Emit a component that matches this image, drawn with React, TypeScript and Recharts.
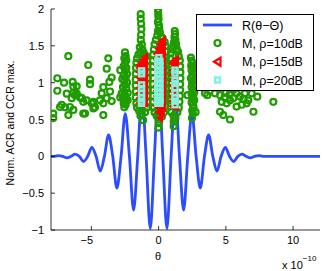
import React from 'react';
import { ComposedChart, Line, Scatter, XAxis, YAxis, Legend } from 'recharts';

const FONT = '"Liberation Sans", Arial, Helvetica, sans-serif';
const BLUE = '#2b4cff';
const GREEN = '#1e9c00';
const RED = '#ff0000';
const CYAN = '#7ff5dc';

const xTicks = [-5, 0, 5, 10];
const yTicks = [-1, -0.5, 0, 0.5, 1, 1.5, 2];
const legendLabels = ['R(\u03b8\u2212\u0398)', 'M, \u03c1=10dB', 'M, \u03c1=15dB', 'M, \u03c1=20dB'];

// R(theta - Theta) curve: extrema and zero crossings
const thetaR = [-8, -7.72, -7.44, -7.13, -6.82, -6.51, -6.2, -5.89, -5.58, -5.27, -4.96, -4.65, -4.34, -4.03, -3.72, -3.41, -3.1, -2.79, -2.48, -2.17, -1.86, -1.55, -1.24, -0.93, -0.62, -0.31, 0, 0.31, 0.62, 0.93, 1.24, 1.55, 1.86, 2.17, 2.48, 2.79, 3.1, 3.41, 3.72, 4.03, 4.34, 4.65, 4.96, 5.27, 5.58, 5.89, 6.2, 6.51, 6.82, 7.13, 7.44, 7.75, 8.1, 12];
const valueR = [0, 0, 0.01, 0, -0.02, 0, 0.03, 0, -0.07, 0, 0.12, 0, -0.2, 0, 0.29, 0, -0.43, 0, 0.58, 0, -0.73, 0, 0.86, 0, -0.98, 0, 1, 0, -0.98, 0, 0.86, 0, -0.73, 0, 0.58, 0, -0.43, 0, 0.29, 0, -0.2, 0, 0.12, 0, -0.07, 0, 0.03, 0, -0.02, 0, 0.01, 0, 0, 0];

// rho = 10 dB (green circles)
const greenLeft = [
  [-6.71, 1.36], [-5.23, 1.24], [-3.74, 1.33], [-3.86, 1.19], [-7.53, 1.06], [-7.03, 1.0], [-6.39, 1.01], [-6.34, 0.945],
  [-5.1, 1.04], [-5.1, 0.98], [-3.49, 1.07], [-3.66, 1.01], [-4.11, 0.94], [-7.53, 0.89], [-6.83, 0.85], [-6.09, 0.85],
  [-5.72, 0.79], [-5.35, 0.76], [-4.85, 0.74], [-4.23, 0.855], [-3.86, 0.79], [-4.36, 0.76], [-7.2, 0.7], [-6.96, 0.665],
  [-6.59, 0.67], [-6.34, 0.63], [-5.6, 0.58], [-4.11, 0.56], [-7.83, 0.58], [-7.83, 0.52], [-6.71, 0.56], [-6.09, 0.95],
  [-5.84, 0.8], [-4.97, 0.72], [-4.73, 0.665], [-3.61, 0.88], [-3.49, 0.75], [-6.46, 0.79], [-6.22, 0.83], [-7.33, 0.67],
  [-5.47, 0.58], [-6.34, 0.86], [-5.6, 0.74], [-4.11, 0.72], [-4.85, 0.65],
];
const greenCol1 = [
  [-2.5, 1.41], [-2.45, 1.36], [-2.55, 1.33], [-2.4, 1.3], [-2.5, 1.26], [-2.6, 1.22], [-2.4, 1.2], [-2.5, 1.16], [-2.35, 1.12],
  [-2.6, 1.1], [-2.45, 1.07], [-2.55, 1.03], [-2.35, 1.0], [-2.5, 0.97], [-2.65, 0.94], [-2.4, 0.92], [-2.55, 0.88], [-2.3, 0.86],
  [-2.5, 0.83], [-2.65, 0.8], [-2.4, 0.78], [-2.55, 0.75], [-2.3, 0.76], [-2.6, 0.72], [-2.45, 0.7], [-2.55, 0.665], [-2.75, 0.85],
  [-2.7, 1.05], [-2.85, 1.17], [-2.85, 0.8],
];
const greenCol2 = [
  [-1.33, 1.93], [-1.33, 1.87], [-1.3, 1.8], [-1.28, 1.73], [-1.3, 1.65], [-1.32, 1.58], [-1.25, 1.52], [-1.4, 1.48], [-1.2, 1.45],
  [-1.35, 1.42], [-1.5, 1.38], [-1.1, 1.4], [-1.6, 1.33], [-0.95, 1.36], [-1.65, 1.27], [-0.85, 1.3], [-1.68, 1.2], [-0.82, 1.22],
  [-1.7, 1.12], [-0.82, 1.14], [-1.7, 1.04], [-0.8, 1.06], [-1.7, 0.96], [-0.82, 0.98], [-1.7, 0.88], [-0.8, 0.9], [-1.7, 0.8],
  [-0.82, 0.82], [-1.66, 0.72], [-0.84, 0.74], [-1.6, 0.66], [-0.88, 0.66], [-1.45, 0.62], [-1.0, 0.6], [-1.25, 0.58], [-1.15, 0.49],
  [-1.35, 0.55],
];
const greenCol3 = [
  [-0.03, 2.0], [-0.03, 1.96], [-0.02, 1.91], [0, 1.86], [-0.05, 1.82], [0.02, 1.78], [0.05, 1.74], [-0.05, 1.7], [0.1, 1.68],
  [-0.1, 1.64], [0.2, 1.62], [-0.2, 1.58], [0.3, 1.6], [-0.3, 1.52], [0.45, 1.55], [-0.35, 1.45], [0.52, 1.5], [-0.4, 1.38],
  [0.55, 1.42], [-0.42, 1.3], [0.56, 1.34], [-0.44, 1.22], [0.56, 1.25], [-0.44, 1.14], [0.56, 1.16], [-0.44, 1.06], [0.56, 1.08],
  [-0.44, 0.98], [0.56, 1.0], [-0.44, 0.9], [0.55, 0.92], [-0.42, 0.82], [0.55, 0.84], [-0.4, 0.74], [0.52, 0.76], [-0.36, 0.66],
  [0.48, 0.68], [-0.3, 0.6], [0.4, 0.6], [-0.15, 0.55], [0.25, 0.54], [0, 0.5], [0.02, 0.45], [0, 0.39],
];
const greenCol4 = [
  [1.2, 1.7], [1.22, 1.66], [1.18, 1.62], [1.25, 1.58], [1.15, 1.55], [1.3, 1.52], [1.1, 1.5], [1.35, 1.46], [1.0, 1.45],
  [1.45, 1.42], [0.9, 1.4], [1.5, 1.36], [0.85, 1.33], [1.58, 1.3], [0.82, 1.25], [1.6, 1.22], [0.8, 1.17], [1.62, 1.14],
  [0.8, 1.09], [1.62, 1.06], [0.8, 1.0], [1.6, 0.98], [0.8, 0.92], [1.6, 0.9], [0.82, 0.84], [1.58, 0.82], [0.84, 0.76],
  [1.55, 0.74], [0.88, 0.68], [1.5, 0.66], [0.95, 0.6], [1.4, 0.6], [1.1, 0.55], [1.25, 0.52], [1.12, 0.47], [1.12, 0.41],
];
const greenCol5 = [
  [2.4, 1.34], [2.45, 1.3], [2.5, 1.27], [2.42, 1.23], [2.55, 1.2], [2.45, 1.17], [2.6, 1.14], [2.5, 1.1], [2.4, 1.06],
  [2.58, 1.03], [2.48, 1.0], [2.62, 0.97], [2.45, 0.94], [2.55, 0.9], [2.65, 0.87], [2.45, 0.85], [2.58, 0.82], [2.5, 0.78],
  [2.65, 0.76], [2.45, 0.73], [2.55, 0.7], [2.6, 0.66], [2.5, 0.62], [2.55, 0.58], [2.48, 0.52], [2.15, 0.83], [2.75, 0.6],
];
const greenRight = [
  [3.45, 0.855], [3.62, 0.83], [4.19, 0.855], [4.57, 0.83], [4.69, 0.74], [5.06, 0.72], [5.31, 0.855], [5.31, 0.76],
  [5.55, 0.79], [5.55, 0.9], [5.8, 0.855], [5.8, 0.675], [6.05, 0.81], [6.18, 0.7], [6.42, 0.855], [6.55, 0.72],
  [6.67, 0.76], [6.92, 0.855], [7.05, 0.605], [7.34, 0.81], [8.53, 0.74], [4.57, 0.605], [4.81, 0.56], [5.31, 0.5],
  [4.9, 0.8], [6.3, 0.78], [5.0, 0.86],
];

// rho = 15 dB (red triangles)
const redA = [
  [-1.45, 0.72], [-1.45, 0.79], [-1.45, 0.86], [-1.45, 0.93], [-1.45, 1.0], [-1.45, 1.07], [-1.45, 1.14], [-1.45, 1.2], [-1.45, 1.24],
  [-1.3, 0.72], [-1.3, 0.79], [-1.3, 0.86], [-1.3, 0.93], [-1.3, 1.0], [-1.3, 1.07], [-1.3, 1.14], [-1.3, 1.21], [-1.3, 1.27],
  [-1.15, 0.72], [-1.15, 0.79], [-1.15, 0.86], [-1.15, 0.93], [-1.15, 1.0], [-1.15, 1.07], [-1.15, 1.14], [-1.15, 1.21], [-1.15, 1.27], [-1.15, 1.31],
  [-1.02, 0.72], [-1.02, 0.79], [-1.02, 0.86], [-1.02, 0.93], [-1.02, 1.0], [-1.02, 1.07], [-1.02, 1.14], [-1.02, 1.21], [-1.02, 1.28], [-1.02, 1.35],
];
const redB = [
  [-0.15, 0.68], [-0.15, 0.75], [-0.15, 0.82], [-0.15, 0.89], [-0.15, 0.96], [-0.15, 1.03], [-0.15, 1.1], [-0.15, 1.17], [-0.15, 1.24], [-0.15, 1.31], [-0.15, 1.39],
  [-0.02, 0.6], [-0.02, 0.67], [-0.02, 0.74], [-0.02, 0.81], [-0.02, 0.88], [-0.02, 0.95], [-0.02, 1.02], [-0.02, 1.09], [-0.02, 1.16], [-0.02, 1.23], [-0.02, 1.3], [-0.02, 1.37], [-0.02, 1.46],
  [0.1, 0.52], [0.1, 0.59], [0.1, 0.66], [0.1, 0.73], [0.1, 0.8], [0.1, 0.87], [0.1, 0.94], [0.1, 1.01], [0.1, 1.08], [0.1, 1.15], [0.1, 1.22], [0.1, 1.29], [0.1, 1.36], [0.1, 1.43], [0.1, 1.52],
  [0.21, 0.58], [0.21, 0.65], [0.21, 0.72], [0.21, 0.79], [0.21, 0.86], [0.21, 0.93], [0.21, 1.0], [0.21, 1.07], [0.21, 1.14], [0.21, 1.21], [0.21, 1.28], [0.21, 1.35], [0.21, 1.42], [0.21, 1.49], [0.21, 1.56],
  [0.3, 0.66], [0.3, 0.73], [0.3, 0.8], [0.3, 0.87], [0.3, 0.94], [0.3, 1.01], [0.3, 1.08], [0.3, 1.15], [0.3, 1.22], [0.3, 1.29], [0.3, 1.36], [0.3, 1.43], [0.3, 1.5], [0.3, 1.58],
];
const redC = [
  [1.02, 0.68], [1.02, 0.75], [1.02, 0.82], [1.02, 0.89], [1.02, 0.96], [1.02, 1.03], [1.02, 1.1], [1.02, 1.17], [1.02, 1.26],
  [1.15, 0.68], [1.15, 0.75], [1.15, 0.82], [1.15, 0.89], [1.15, 0.96], [1.15, 1.03], [1.15, 1.1], [1.15, 1.17], [1.15, 1.24], [1.15, 1.29],
  [1.28, 0.68], [1.28, 0.75], [1.28, 0.82], [1.28, 0.89], [1.28, 0.96], [1.28, 1.03], [1.28, 1.1], [1.28, 1.17], [1.28, 1.24], [1.28, 1.32],
];

// rho = 20 dB (cyan squares)
const cyanA = [[-1.27, 1.16], [-1.27, 1.12], [-1.27, 0.97], [-1.27, 0.92], [-1.27, 0.86], [-1.27, 0.8], [-1.27, 0.75], [-1.27, 0.72]];
const cyanB = [
  [0.02, 1.34], [-0.06, 1.29], [0.1, 1.29], [-0.06, 1.23], [0.1, 1.23], [-0.06, 1.17], [0.1, 1.17], [-0.06, 1.11], [0.1, 1.11],
  [-0.06, 1.05], [0.1, 1.05], [-0.06, 0.99], [0.1, 0.99], [-0.06, 0.93], [0.1, 0.93], [-0.06, 0.87], [0.1, 0.87],
  [-0.06, 0.81], [0.1, 0.81], [-0.06, 0.76], [0.1, 0.76], [-0.06, 0.72], [0.1, 0.72],
];
const cyanC = [[1.22, 1.17], [1.22, 1.13], [1.22, 1.03], [1.22, 0.99], [1.22, 0.93], [1.22, 0.86], [1.22, 0.8], [1.22, 0.75], [1.22, 0.7]];

const toPts = (arr: number[][]) => arr.map(([x, y]) => ({ x, y }));
const lineData = thetaR.map((x, i) => ({ x, y: valueR[i] }));
const greenData = toPts([...greenLeft, ...greenCol1, ...greenCol2, ...greenCol3, ...greenCol4, ...greenCol5, ...greenRight]);
const redData = toPts([...redA, ...redB, ...redC]);
const cyanData = toPts([...cyanA, ...cyanB, ...cyanC]);

const fmt = (v: number) => (v < 0 ? '\u2212' + String(-v) : String(v));

const Ring = (p: any) => <circle cx={p.cx} cy={p.cy} r={3} fill="none" stroke={GREEN} strokeWidth={2.2} />;
const Tri = (p: any) => (
  <path d={`M${p.cx - 3},${p.cy} L${p.cx + 2.6},${p.cy - 3.6} L${p.cx + 2.6},${p.cy + 3.6} Z`} fill={RED} stroke={RED} strokeWidth={1.2} />
);
const Sq = (p: any) => <rect x={p.cx - 2.5} y={p.cy - 2.5} width={5} height={5} fill="none" stroke={CYAN} strokeWidth={2.4} />;

const BottomTick = (p: any) => {
  const v = p.payload.value;
  return (
    <g>
      <line x1={p.x} y1={p.y} x2={p.x} y2={p.y - 4} stroke="#000" strokeWidth={0.8} />
      <text x={v < 0 ? p.x - 4.5 : p.x} y={p.y + 13.5} textAnchor="middle" fontSize={11} fontFamily={FONT} fill="#000">{fmt(v)}</text>
    </g>
  );
};
const TopTick = (p: any) => <line x1={p.x} y1={p.y} x2={p.x} y2={p.y + 4} stroke="#000" strokeWidth={0.8} />;
const LeftTick = (p: any) => (
  <g>
    <line x1={p.x} y1={p.y} x2={p.x + 4} y2={p.y} stroke="#000" strokeWidth={0.8} />
    <text x={p.x - 7} y={p.y + 4} textAnchor="end" fontSize={11} fontFamily={FONT} fill="#000">{fmt(p.payload.value)}</text>
  </g>
);
const RightTick = (p: any) => <line x1={p.x} y1={p.y} x2={p.x - 4} y2={p.y} stroke="#000" strokeWidth={0.8} />;

const XLabel = (p: any) => {
  const vb = p.viewBox;
  return (
    <g fontFamily={FONT} fill="#000">
      <text x={vb.x + 107} y={vb.y + 30} textAnchor="middle" fontSize={11}>{'\u03b8'}</text>
      <text x={vb.x + 231} y={vb.y + 39} fontSize={11}>
        x 10<tspan dy={-8} fontSize={8}>{'\u221210'}</tspan>
      </text>
    </g>
  );
};
const YLabel = (p: any) => {
  const vb = p.viewBox;
  const cx = vb.x + 10;
  const cy = vb.y + 114;
  return (
    <text x={cx} y={cy} transform={`rotate(-90 ${cx} ${cy})`} textAnchor="middle" dominantBaseline="central" fontSize={10.5} fontFamily={FONT} fill="#000">
      Norm. ACR and CCR max.
    </text>
  );
};

const LegendBox = () => (
  <svg width={118} height={77} style={{ display: 'block' }} fontFamily={FONT}>
    <rect x={0.5} y={0.5} width={117} height={76} fill="#fff" stroke="#000" strokeWidth={1} />
    <line x1={7} y1={11} x2={36} y2={11} stroke={BLUE} strokeWidth={2.8} />
    <circle cx={21.5} cy={29} r={3} fill="none" stroke={GREEN} strokeWidth={2.2} />
    <path d="M18,47.7 L24.5,43.7 L24.5,51.7 Z" fill="none" stroke={RED} strokeWidth={2.2} />
    <rect x={19} y={63.5} width={5} height={5} fill="none" stroke={CYAN} strokeWidth={2.4} />
    {legendLabels.map((t, i) => (
      <text key={t} x={46} y={[11, 29, 47.7, 66][i] + 4.5} fontSize={12.5} fill="#000">{t}</text>
    ))}
  </svg>
);

export default function App() {
  return (
    <div style={{ position: 'absolute', left: 0, top: 0, width: 322, height: 271, background: '#fff' }}>
      <ComposedChart width={322} height={271} margin={{ top: 9, right: 2, bottom: 0, left: 0 }}>
        <XAxis
          dataKey="x" type="number" domain={[-8, 12]} ticks={xTicks} allowDataOverflow height={41}
          tickLine={false} tickSize={0} tickMargin={0} tick={BottomTick} axisLine={{ stroke: '#000', strokeWidth: 0.8 }}
          interval={0} label={XLabel}
        />
        <XAxis
          xAxisId="top" orientation="top" type="number" domain={[-8, 12]} ticks={xTicks} allowDataOverflow height={0}
          tickLine={false} tickSize={0} tickMargin={0} tick={TopTick} axisLine={{ stroke: '#000', strokeWidth: 0.8 }} interval={0}
        />
        <YAxis
          dataKey="y" type="number" domain={[-1, 2]} ticks={yTicks} allowDataOverflow width={51}
          tickLine={false} tickSize={0} tickMargin={0} tick={LeftTick} axisLine={{ stroke: '#000', strokeWidth: 0.8 }}
          interval={0} label={YLabel}
        />
        <YAxis
          yAxisId="right" orientation="right" type="number" domain={[-1, 2]} ticks={yTicks} allowDataOverflow width={0}
          tickLine={false} tickSize={0} tickMargin={0} tick={RightTick} axisLine={{ stroke: '#000', strokeWidth: 0.8 }} interval={0}
        />
        <Line data={lineData} dataKey="y" type="monotone" stroke={BLUE} strokeWidth={2.8} dot={false} activeDot={false} isAnimationActive={false} />
        <Scatter data={greenData} dataKey="y" shape={Ring} isAnimationActive={false} />
        <Scatter data={redData} dataKey="y" shape={Tri} isAnimationActive={false} />
        <Scatter data={cyanData} dataKey="y" shape={Sq} isAnimationActive={false} />
        <Legend
          layout="vertical" align="center" verticalAlign="middle"
          wrapperStyle={{ left: 196, top: 14, width: 118, height: 77 }}
          content={LegendBox}
        />
      </ComposedChart>
    </div>
  );
}
